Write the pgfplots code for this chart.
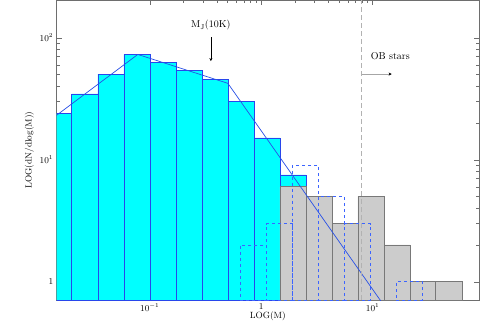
\documentclass[border=0pt]{standalone}
\usepackage{pgfplots}
\pgfplotsset{compat=1.18}
\usetikzlibrary{arrows.meta}
\definecolor{histcyan}{RGB}{0,255,255}
\definecolor{histedge}{RGB}{40,70,235}
\definecolor{dashblue}{RGB}{60,100,255}
\definecolor{fitblue}{RGB}{40,80,230}
\definecolor{graybar}{RGB}{204,204,204}
\definecolor{grayedge}{RGB}{120,120,120}
\definecolor{axisgray}{RGB}{110,110,110}

\begin{document}
\begin{tikzpicture}
\begin{axis}[
  at={(0,0)}, anchor=south west,
  scale only axis,
  width=422.3pt, height=300pt,
  xmode=log, ymode=log,
  log origin y=infty,
  xmin=0.0146, xmax=90,
  ymin=0.708, ymax=204,
  axis line style={axisgray},
  every tick/.style={axisgray},
  tick align=inside,
  major tick length=5pt,
  minor tick length=3pt,
  xtick={0.1,1,10},
  xticklabels={$10^{-1}$,$1$,$10^{1}$},
  ytick={1,10,100},
  yticklabels={$1$,$10^{1}$,$10^{2}$},
  tick label style={font=\small},
  xlabel={LOG(M)},
  ylabel={LOG(dN/dlog(M))},
  label style={font=\small},
  xlabel style={yshift=6pt},
  ylabel style={yshift=-1pt},
  clip=true,
]
% cyan histogram
\addplot[ybar interval, fill=histcyan, draw=histedge, line width=0.6pt] coordinates {
  (0.01166,24.0) (0.01995,34.6) (0.03415,50.4) (0.05843,73.0)
  (0.1,63.2) (0.1711,54.0) (0.2929,45.8) (0.5012,30.3)
  (0.8577,15.1) (1.468,7.5) (2.512,7.5)
};
% gray histogram
\addplot[ybar interval, fill=graybar, draw=grayedge, line width=0.6pt] coordinates {
  (1.468,6.0) (2.512,5.0) (4.299,3.0) (7.356,5.0)
  (12.59,2.0) (21.54,1.0) (36.86,1.0) (63.1,1.0)
};
% dashed histogram
\addplot[ybar interval, fill=none, draw=dashblue, dashed, line width=0.6pt] coordinates {
  (0.6506,2) (1.1134,3) (1.905,9) (3.261,5) (5.581,3) (9.55,3)
};
\addplot[ybar interval, fill=none, draw=dashblue, dashed, line width=0.6pt] coordinates {
  (16.34,1) (27.97,1)
};
% broken power-law fit
\addplot[fitblue, line width=0.7pt, mark=none] coordinates {
  (0.01,17.9) (0.078,73.0) (0.502,42.3) (15.85,0.475)
};
% OB limit
\addplot[gray!60, line width=0.8pt, dash pattern=on 5pt off 3pt, mark=none] coordinates {
  (7.96,0.708) (7.96,204)
};
\draw[gray!70, line width=0.7pt, -{Stealth[black,length=3pt,width=3pt]}] (axis cs:7.96,50.4) -- (axis cs:14.8,50.4);
\node[anchor=west, inner sep=0pt] at (axis cs:9.6,70.8) {OB stars};
\node at (axis cs:0.353,127) {M$_{\rm J}$(10K)};
\draw[black, line width=0.4pt, -{Stealth[length=3pt,width=3pt]}] (axis cs:0.353,101) -- (axis cs:0.353,64.4);
\end{axis}
\pgfresetboundingbox
\path[use as bounding box] (-56.7pt,-27pt) rectangle (423.3pt,300pt);
\end{tikzpicture}
\end{document}
